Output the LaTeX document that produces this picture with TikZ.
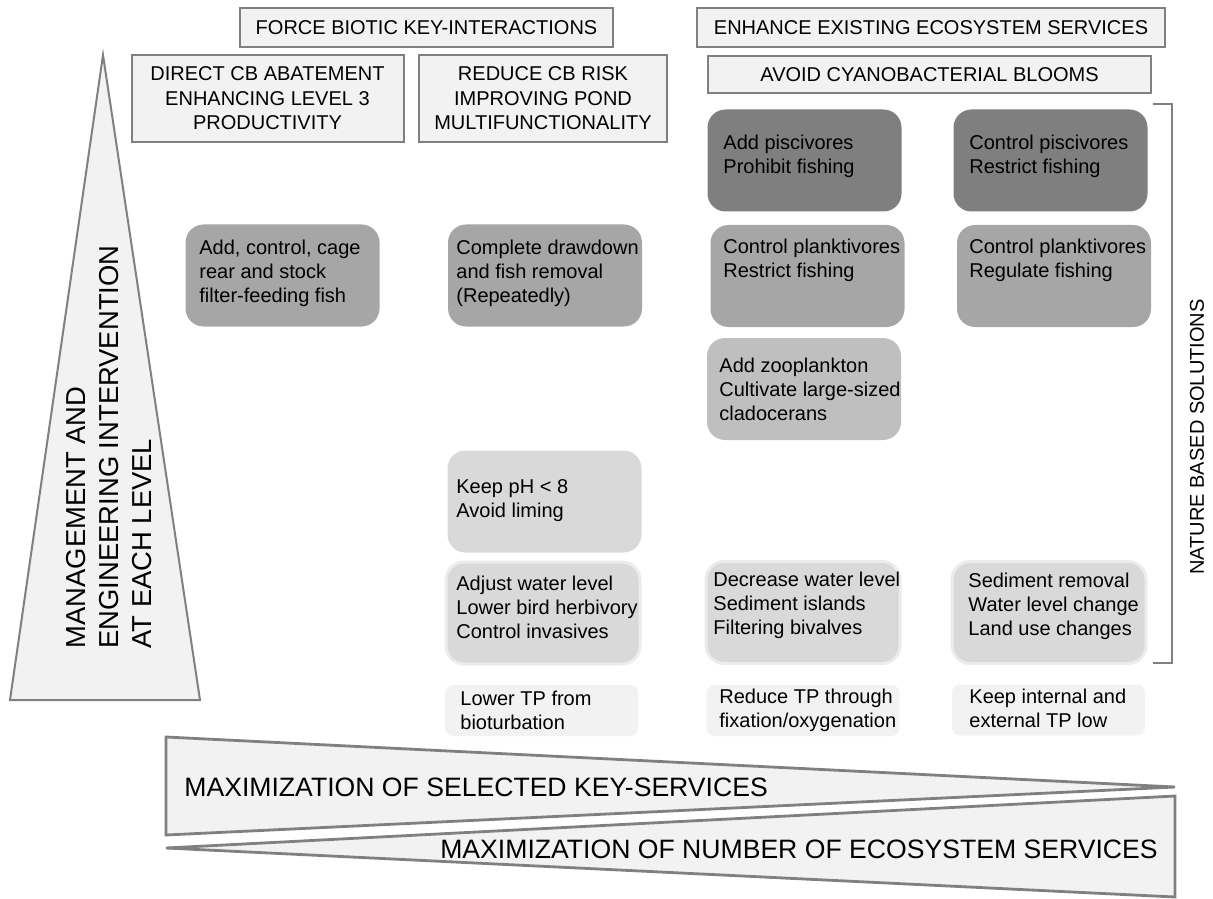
\documentclass[tikz,border=0pt]{standalone}
\usepackage{fontspec}
\setmainfont{Liberation Sans}
\usepackage{tikz}

\definecolor{framegray}{RGB}{128,128,128}
\definecolor{paper}{RGB}{242,242,242}
\definecolor{shade1}{RGB}{127,127,127}
\definecolor{shade2}{RGB}{166,166,166}
\definecolor{shade3}{RGB}{191,191,191}
\definecolor{shade4}{RGB}{217,217,217}
\definecolor{halo}{RGB}{236,236,236}

\tikzset{
  headbox/.style={draw=framegray, line width=1pt, fill=paper, inner sep=0pt, align=center, font=\fontsize{10}{12.25}\selectfont},
  solbox/.style={rounded corners=9pt, minimum width=97pt, minimum height=51pt, inner sep=0pt},
  tpbox/.style={fill=paper, rounded corners=4pt, minimum width=96.5pt, minimum height=25.5pt, inner sep=0pt},
  boxtext/.style={anchor=west, align=left, inner sep=0pt, font=\fontsize{10}{12}\selectfont},
  wedge/.style={draw=framegray, line width=1.4pt, fill=paper},
}

\begin{document}
\begin{tikzpicture}[x=0.5pt,y=-0.5pt]
\useasboundingbox (0,0) rectangle (1213,898);

\node (force) at (426.5,27.5) [headbox, minimum width=186.5pt, minimum height=19.5pt]{FORCE BIOTIC KEY-INTERACTIONS};
\node (enhance) at (931,27.5) [headbox, minimum width=234pt, minimum height=19.5pt]{ENHANCE EXISTING ECOSYSTEM SERVICES};
\node (direct) at (267.5,98.5) [headbox, minimum width=136pt, minimum height=43.5pt]{DIRECT CB ABATEMENT\\ENHANCING LEVEL 3\\PRODUCTIVITY};
\node (reduce) at (543,98.5) [headbox, minimum width=124pt, minimum height=43.5pt]{REDUCE CB RISK\\IMPROVING POND\\MULTIFUNCTIONALITY};
\node (avoid) at (929.5,74.5) [headbox, minimum width=221.5pt, minimum height=18.5pt]{AVOID CYANOBACTERIAL BLOOMS};

\draw [wedge, line width=1pt](103,55) -- (200,700) -- (10,700) -- cycle;
\node (effort) at (109,447) [rotate=90, align=left, inner sep=0pt, font=\fontsize{13.7}{16.5}\selectfont]{MANAGEMENT AND\\ENGINEERING INTERVENTION\\AT EACH LEVEL};

\draw [framegray, line width=1.2pt](1153,104) -- (1172,104) -- (1172,663) -- (1153,663);
\node (nbs) at (1197,437) [rotate=90, inner sep=0pt, font=\fontsize{10}{12}\selectfont]{NATURE BASED SOLUTIONS};

\node (pisc) at (804.5,160.5) [solbox, fill=shade1]{};
\node (pisc-t) at (723,156) [boxtext]{Add piscivores\\Prohibit fishing};
\node (ctrlpisc) at (1050.5,160.5) [solbox, fill=shade1]{};
\node (ctrlpisc-t) at (969,156) [boxtext]{Control piscivores\\Restrict fishing};

\node (cage) at (282.5,275.5) [solbox, fill=shade2]{};
\node (cage-t) at (199,273.5) [boxtext]{Add, control, cage\\rear and stock\\filter-feeding fish};
\node (drawdown) at (545,275.5) [solbox, fill=shade2]{};
\node (drawdown-t) at (456,273.5) [boxtext]{Complete drawdown\\and fish removal\\(Repeatedly)};
\node (plankt) at (807.5,276) [solbox, fill=shade2]{};
\node (plankt-t) at (723,260) [boxtext]{Control planktivores\\Restrict fishing};
\node (regplankt) at (1054,276) [solbox, fill=shade2]{};
\node (regplankt-t) at (969,260) [boxtext]{Control planktivores\\Regulate fishing};

\node (zoo) at (804,389) [solbox, fill=shade3]{};
\node (zoo-t) at (719,389) [boxtext]{Add zooplankton\\Cultivate large-sized\\cladocerans};

\node (ph) at (544.5,501.5) [solbox, fill=shade4]{};
\node (ph-t) at (456,501) [boxtext]{Keep pH < 8\\Avoid liming};

\node (adjust) at (543,613) [solbox, fill=shade4, draw=halo, line width=1.5pt]{};
\node (adjust-t) at (456,607) [boxtext]{Adjust water level\\Lower bird herbivory\\Control invasives};
\node (decrease) at (803,612.5) [solbox, fill=shade4, draw=halo, line width=1.5pt]{};
\node (decrease-t) at (713,605) [boxtext]{Decrease water level\\Sediment islands\\Filtering bivalves};
\node (sediment) at (1049,612.5) [solbox, fill=shade4, draw=halo, line width=1.5pt]{};
\node (sediment-t) at (968,606) [boxtext]{Sediment removal\\Water level change\\Land use changes};

\node (lowtp) at (541.5,710.5) [tpbox]{};
\node (lowtp-t) at (460,710) [boxtext]{Lower TP from\\bioturbation};
\node (redtp) at (803,710.5) [tpbox]{};
\node (redtp-t) at (719,710) [boxtext]{Reduce TP through\\fixation/oxygenation};
\node (keeptp) at (1048.5,710) [tpbox]{};
\node (keeptp-t) at (969,708) [boxtext]{Keep internal and\\external TP low};

\draw [wedge](166,737) -- (1175,787) -- (166,835) -- cycle;
\node (keysrv) at (184,787) [anchor=west, inner sep=0pt, font=\fontsize{13.3}{16}\selectfont]{MAXIMIZATION OF SELECTED KEY-SERVICES};
\draw [wedge](166,848) -- (1175,796) -- (1175,897) -- cycle;
\node (numsrv) at (1158,849) [anchor=east, inner sep=0pt, font=\fontsize{13.3}{16}\selectfont]{MAXIMIZATION OF NUMBER OF ECOSYSTEM SERVICES};

\end{tikzpicture}
\end{document}
